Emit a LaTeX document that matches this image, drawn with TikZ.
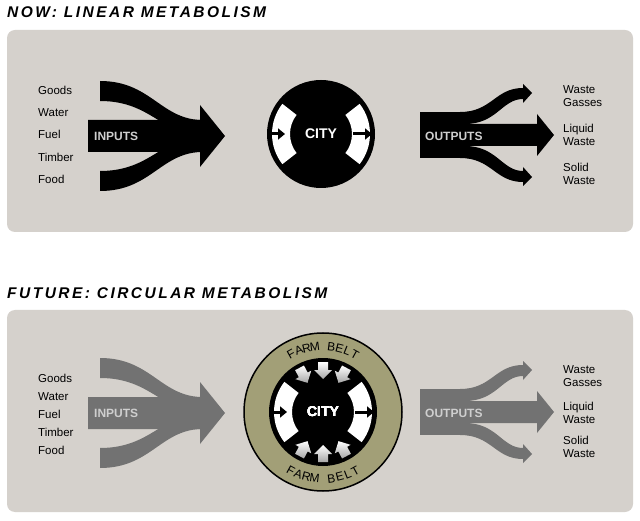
\documentclass[tikz,border=0pt]{standalone}
\usepackage{fontspec}
\setmainfont{Liberation Sans}
\usetikzlibrary{arrows.meta,calc}
\definecolor{panel}{HTML}{D5D1CC}
\definecolor{flowgray}{HTML}{727272}
\definecolor{olive}{HTML}{A29F77}
\definecolor{softtext}{HTML}{CFCFCF}
\tikzset{
	label text/.style={font=\fontsize{11.5}{13}\selectfont, align=left, anchor=west, inner sep=0pt},
	flow text/.style={font=\bfseries\fontsize{12}{14}\selectfont, text=softtext, anchor=west, inner sep=0pt},
	title text/.style={font=\bfseries\itshape\fontsize{15.5}{17}\selectfont\addfontfeature{LetterSpace=16}, anchor=west, inner sep=0pt},
	belt letter/.style={font=\fontsize{12}{13}\selectfont, inner sep=0pt},
}
% input arrow: three strands joining into one
\newcommand\inflow[1]{
	\fill[#1] (88,-120) -- (200,-120) -- (200,-105) -- (225,-136) -- (200,-167) -- (200,-152) -- (88,-152) -- cycle;
	\fill[#1] (100,-81) .. controls (150,-81) and (160,-118) .. (200,-120) -- (200,-135) .. controls (160,-133) and (150,-101) .. (100,-101) -- cycle;
	\fill[#1] (100,-191) .. controls (150,-191) and (160,-154) .. (200,-152) -- (200,-137) .. controls (160,-139) and (150,-171) .. (100,-171) -- cycle;
}
% output arrow: one strand splitting into three
\newcommand\outflow[1]{
	\fill[#1] (420,-112) rectangle (468,-158);
	\fill[#1] (420,-124) -- (537,-124) -- (537,-114) -- (554,-135) -- (537,-156) -- (537,-146) -- (420,-146) -- cycle;
	\fill[#1] (460,-112) .. controls (492,-112) and (495,-88) .. (523,-88) -- (523,-84) -- (532,-93) -- (523,-103) -- (523,-99) .. controls (502,-99) and (497,-124) .. (465,-124) -- cycle;
	\fill[#1] (460,-158) .. controls (492,-158) and (495,-182) .. (523,-182) -- (523,-186) -- (532,-177) -- (523,-167) -- (523,-171) .. controls (502,-171) and (497,-146) .. (465,-146) -- cycle;
}
% city disc with white sectors and small black arrows
\newcommand\citydisc[2]{
	\fill[black] (#1) circle[radius=#2];
	\fill[white] (#1) ++(-38:31) arc[start angle=-38,end angle=38,radius=31] -- ++(38:18) arc[start angle=38,end angle=-38,radius=49] -- cycle;
	\fill[white] (#1) ++(142:31) arc[start angle=142,end angle=218,radius=31] -- ++(218:18) arc[start angle=218,end angle=142,radius=49] -- cycle;
	\draw[black, line width=3pt, -{Triangle[length=7pt,width=11pt]}] (#1) ++(-51,0) -- ++(15,0);
	\draw[black, line width=3pt, -{Triangle[length=7pt,width=11pt]}] (#1) ++(32,0) -- ++(19,0);
}
\newcommand\beltarrow[2]{
	\begin{scope}[shift={(#1)}, rotate=#2]
		\shade[left color=white, right color=gray!70, shading angle=0]
			(50,-5) -- (42,-5) -- (42,-9) -- (33,0) -- (42,9) -- (42,5) -- (50,5) -- cycle;
	\end{scope}
}
\begin{document}
\begin{tikzpicture}[x=1pt, y=1pt]
	\useasboundingbox (0,0) rectangle (640,-521);
	\fill[white] (0,0) rectangle (640,-521);

	% linear metabolism
	\node[title text] (nowtitle) at (7,-12) {NOW: LINEAR METABOLISM};
	\fill[panel, rounded corners=8pt] (7,-30) rectangle (633,-232);
	\inflow{black}
	\outflow{black}
	\coordinate (citytop) at (321,-134);
	\citydisc{citytop}{54}
	\node[font=\bfseries\fontsize{14}{16}\selectfont, text=white] (citynow) at (citytop) {CITY};
	\node[flow text] (innow) at (94,-136) {INPUTS};
	\node[flow text] (outnow) at (425,-136) {OUTPUTS};
	\foreach \lab [count=\i] in {Goods,Water,Fuel,Timber,Food}
		\node[label text] (innow\i) at (38,{-90-22.3*(\i-1)}) {\lab};
	\node[label text] (outnowa) at (563,-96) {Waste\\Gasses};
	\node[label text] (outnowb) at (563,-135) {Liquid\\Waste};
	\node[label text] (outnowc) at (563,-174) {Solid\\Waste};

	% circular metabolism
	\node[title text] (futuretitle) at (7,-293) {FUTURE: CIRCULAR METABOLISM};
	\fill[panel, rounded corners=8pt] (7,-310) rectangle (633,-512);
	\begin{scope}[yshift=-277pt]
		\inflow{flowgray}
		\outflow{flowgray}
	\end{scope}
	\coordinate (citybot) at (323,-412);
	\filldraw[fill=olive, draw=black, line width=1.5pt] (citybot) circle[radius=79];
	\citydisc{citybot}{54}
	\foreach \a in {62,90,118,242,270,298}
		\beltarrow{citybot}{\a}
	\node[font=\bfseries\fontsize{14}{16}\selectfont, text=white] (cityfuture) at (citybot) {CITY};
	\foreach \ch [count=\i] in {F,A,R,M,{},B,E,L,T}
		\node[belt letter, rotate={-(\i-5)*7.2}] (beltup\i) at ($(citybot)+({90-(\i-5)*7.2}:66)$) {\ch};
	\foreach \ch [count=\i] in {F,A,R,M,{},B,E,L,T}
		\node[belt letter, rotate={(\i-5)*7.2}] (beltdown\i) at ($(citybot)+({270+(\i-5)*7.2}:67)$) {\ch};
	\node[flow text] (infuture) at (94,-413) {INPUTS};
	\node[flow text] (outfuture) at (425,-413) {OUTPUTS};
	\foreach \lab [count=\i] in {Goods,Water,Fuel,Timber,Food}
		\node[label text] (infuture\i) at (38,{-378-18.2*(\i-1)}) {\lab};
	\node[label text] (outfuturea) at (563,-376) {Waste\\Gasses};
	\node[label text] (outfutureb) at (563,-413) {Liquid\\Waste};
	\node[label text] (outfuturec) at (563,-447) {Solid\\Waste};
\end{tikzpicture}
\end{document}
